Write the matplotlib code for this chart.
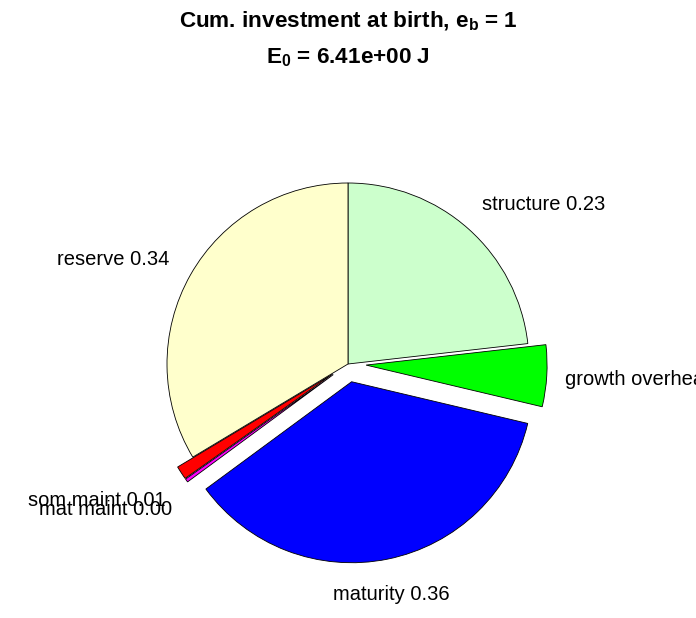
import numpy as np
import matplotlib
matplotlib.use('Agg')
import matplotlib.pyplot as plt

plt.rcParams['font.family'] = ['Liberation Sans', 'DejaVu Sans']
plt.rcParams['mathtext.fontset'] = 'custom'
plt.rcParams['mathtext.rm'] = 'Liberation Sans'
plt.rcParams['mathtext.bf'] = 'Liberation Sans:bold'

# data (fractions of cumulative investment at birth)
labels = ['structure', 'growth overhead', 'maturity', 'mat maint', 'som maint', 'reserve']
fracs = [0.232, 0.055, 0.362, 0.003, 0.012, 0.336]
explode = [0, 0.1, 0.1, 0.1, 0.1, 0]
colors = ['#ccffcc', '#00ff00', '#0000ff', '#ff00ff', '#ff0000', '#ffffcc']
E0 = 6.41

W, H = 696, 618
R = 181.0          # pie radius in pixels
cx, cy = 348, 364  # pie centre in pixels (from top)

fig = plt.figure(figsize=(W / 100, H / 100), dpi=100)
ax = fig.add_axes([0, 0, 1, 1])

wedges, _ = ax.pie(fracs, explode=explode, colors=colors, startangle=90,
                   counterclock=False, radius=1,
                   wedgeprops=dict(edgecolor='black', linewidth=0.6))
ax.set_aspect('auto')
ax.set_xlim(-cx / R, (W - cx) / R)
ax.set_ylim(-(H - cy) / R, cy / R)
ax.axis('off')

# labels at 1.2 radius along each wedge bisector, matlab-ish placement
for w, lab, f in zip(wedges, labels, fracs):
    ang = np.deg2rad((w.theta1 + w.theta2) / 2)
    x, y = 1.2 * np.cos(ang), 1.2 * np.sin(ang)
    if abs(np.cos(ang)) < 0.3:
        ha = 'center'
    else:
        ha = 'left' if x > 0 else 'right'
        if y > 0.3:
            x -= np.sign(x) * 0.06
    y -= 0.1 if y < -0.5 else 0.015
    ax.text(x, y, '%s %.2f' % (lab, f), ha=ha, va='center', fontsize=14.5)

fig.text(0.5, 1 - 27 / H, r'Cum. investment at birth, $\mathbf{e_b}$ = 1',
         ha='center', va='baseline', fontsize=16.2, fontweight='bold')
fig.text(0.5, 1 - 63 / H, r'$\mathbf{E_0}$ = %.2e J' % E0,
         ha='center', va='baseline', fontsize=16.2, fontweight='bold')

fig.savefig('out.png', dpi=100)
